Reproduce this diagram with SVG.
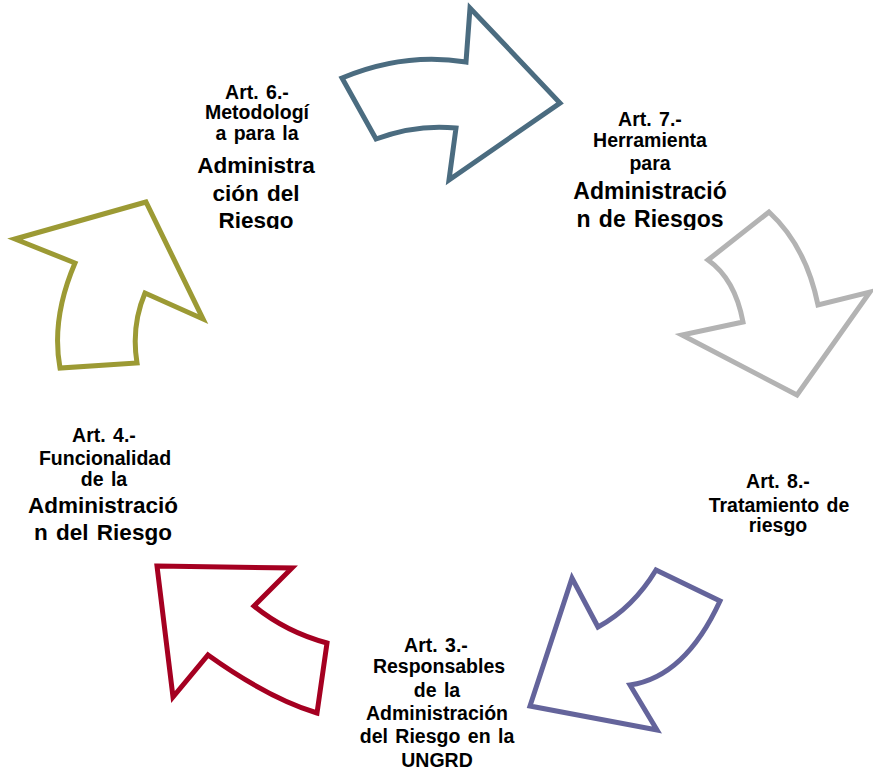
<svg xmlns="http://www.w3.org/2000/svg" width="873" height="772" viewBox="0 0 873 772">
<style>
.arrow{fill:#ffffff;stroke-width:5;stroke-linejoin:miter;stroke-miterlimit:10}
text{font-family:"Liberation Sans",Arial,sans-serif;font-weight:bold;fill:#000000;text-anchor:middle;word-spacing:2px}
.n{font-size:19.5px}
.l{font-size:22.5px}
.xl{font-size:23px}
</style>
<defs>
<clipPath id="c6"><rect x="150" y="60" width="220" height="169"/></clipPath>
<clipPath id="c7"><rect x="540" y="100" width="220" height="130"/></clipPath>
</defs>
<rect width="873" height="772" fill="#ffffff"/>
<g id="connectors">
<path id="arrow-6-7" class="arrow" stroke="#4b6c80" d="M342,78 Q404,52 466,62 L470,8 L560,103 L449,180 L456,128 Q416,124 376,139 Z"/>
<path id="arrow-7-8" class="arrow" stroke="#b3b3b3" d="M769,212 Q806,246 818,305 L870,292 L797,395 L682,335 L743,322 Q735,279 708,260 Z"/>
<path id="arrow-8-3" class="arrow" stroke="#64649b" d="M656,570 L720,601 Q685,677 630,685 L657,730 L530,706 L572,578 L598,627 Q633,608 656,570 Z"/>
<path id="arrow-3-4" class="arrow" stroke="#a50021" d="M157,566 L292,568 L254,606 Q286,632 327,643 L317,713 Q268,698 208,655 L173,697 Z"/>
<path id="arrow-4-6" class="arrow" stroke="#9c9a34" d="M146,202 L15,239 L75,263 Q51,319 60,368 L137,363 Q131,326 145,293 L203,319 Z"/>
</g>
<g id="node-art6" clip-path="url(#c6)">
<text class="n" x="257" y="99">Art. 6.-</text>
<text class="n" x="257" y="119">Metodologí</text>
<text class="n" x="257" y="140">a para la</text>
<text class="l" x="256" y="173">Administra</text>
<text class="l" x="256" y="201">ción del</text>
<text class="l" x="256" y="228">Riesgo</text>
</g>
<g id="node-art7" clip-path="url(#c7)">
<text class="n" x="650" y="126">Art. 7.-</text>
<text class="n" x="650" y="147">Herramienta</text>
<text class="n" x="650" y="170">para</text>
<text class="xl" x="650" y="199">Administració</text>
<text class="xl" x="650" y="227">n de Riesgos</text>
</g>
<g id="node-art8">
<text class="n" x="778" y="488">Art. 8.-</text>
<text class="n" x="779" y="512">Tratamiento de</text>
<text class="n" x="778" y="532">riesgo</text>
</g>
<g id="node-art3">
<text class="n" x="436" y="652">Art. 3.-</text>
<text class="n" x="439" y="673">Responsables</text>
<text class="n" x="437" y="697">de la</text>
<text class="n" x="437" y="720">Administración</text>
<text class="n" x="437" y="743">del Riesgo en la</text>
<text class="n" x="437" y="767">UNGRD</text>
</g>
<g id="node-art4">
<text class="n" x="104" y="442">Art. 4.-</text>
<text class="n" x="105" y="465">Funcionalidad</text>
<text class="n" x="104" y="486">de la</text>
<text class="l" x="103" y="513">Administració</text>
<text class="l" x="103" y="540">n del Riesgo</text>
</g>
</svg>
